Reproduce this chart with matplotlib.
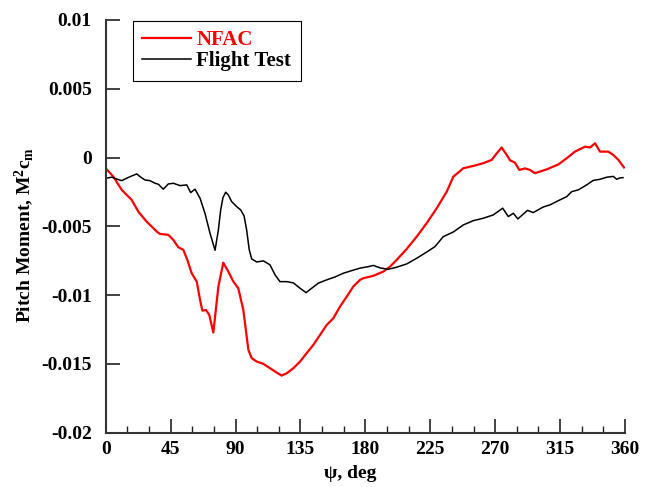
import matplotlib
matplotlib.use("Agg")
import matplotlib.pyplot as plt
from matplotlib.ticker import MultipleLocator

plt.rcParams["font.family"] = ["Liberation Serif", "DejaVu Serif"]
plt.rcParams["font.weight"] = "bold"
plt.rcParams["mathtext.fontset"] = "custom"
plt.rcParams["mathtext.rm"] = "Liberation Serif:bold"
plt.rcParams["mathtext.it"] = "Liberation Serif:bold"
plt.rcParams["mathtext.bf"] = "Liberation Serif:bold"

# Azimuth (deg) and pitch-moment coefficient, NFAC wind tunnel
nfac_psi = [0.0, 5.3, 11.1, 18.0, 22.6, 28.4, 35.4, 37.6, 43.4, 46.9, 50.3, 53.8,
            56.6, 59.6, 63.1, 65.4, 67.0, 69.5, 71.8, 74.6, 78.1, 81.5, 85.0, 88.5,
            91.9, 95.4, 98.9, 101.2, 104.7, 109.3, 113.9, 118.5, 122.0, 125.5, 130.1,
            134.7, 139.3, 143.9, 148.6, 153.2, 157.8, 162.4, 167.1, 171.6, 176.3,
            178.6, 185.5, 192.4, 197.1, 201.7, 208.7, 215.6, 222.5, 229.5, 236.4,
            241.0, 247.9, 254.8, 261.8, 267.6, 271.1, 274.5, 278.0, 280.3, 283.7,
            286.7, 290.7, 294.1, 297.6, 305.7, 313.8, 319.6, 325.3, 332.3, 335.8,
            339.2, 342.7, 348.4, 351.9, 355.4, 359.3]
nfac_cm = [-0.00078, -0.00139, -0.00235, -0.00308, -0.00393, -0.00466, -0.00538,
           -0.00555, -0.00562, -0.00599, -0.00652, -0.00671, -0.00744, -0.00841,
           -0.00902, -0.01035, -0.01113, -0.01108, -0.01144, -0.01272, -0.00938,
           -0.00764, -0.00829, -0.00902, -0.00950, -0.01108, -0.01398, -0.01458,
           -0.01483, -0.01500, -0.01531, -0.01563, -0.01585, -0.01568, -0.01531,
           -0.01483, -0.01422, -0.01362, -0.01289, -0.01217, -0.01168, -0.01084,
           -0.01011, -0.00938, -0.00889, -0.00877, -0.00860, -0.00829, -0.00793,
           -0.00744, -0.00664, -0.00575, -0.00477, -0.00368, -0.00248, -0.00139,
           -0.00078, -0.00061, -0.00041, -0.00017, 0.00031, 0.00073, 0.00019,
           -0.00020, -0.00037, -0.00090, -0.00079, -0.00090, -0.00114, -0.00086,
           -0.00050, -0.00005, 0.00043, 0.00079, 0.00073, 0.00104, 0.00043,
           0.00043, 0.00019, -0.00017, -0.00072]

# Flight test measurements
flight_psi = [0.2, 4.2, 7.6, 11.1, 14.6, 18.0, 21.5, 23.8, 27.2, 30.7, 34.2, 36.5,
              39.9, 43.4, 46.9, 51.5, 56.2, 58.9, 61.9, 65.4, 68.8, 72.3, 75.8,
              78.1, 79.7, 81.3, 83.2, 85.0, 87.3, 90.8, 93.6, 95.9, 97.7, 99.5,
              101.2, 104.7, 109.3, 113.9, 117.4, 120.8, 125.5, 130.1, 134.7, 138.9,
              142.8, 147.4, 153.2, 159.0, 164.7, 170.5, 176.3, 182.0, 185.5, 190.2,
              195.9, 201.7, 208.7, 215.6, 222.5, 228.3, 234.0, 241.0, 247.9, 254.8,
              261.8, 268.7, 275.2, 279.1, 282.6, 285.7, 292.4, 296.4, 303.4, 308.0,
              313.5, 319.6, 323.0, 327.6, 333.4, 338.0, 342.7, 347.3, 351.9, 354.2,
              356.5, 358.6]
flight_cm = [-0.00150, -0.00143, -0.00156, -0.00168, -0.00150, -0.00134, -0.00119,
             -0.00139, -0.00163, -0.00168, -0.00187, -0.00194, -0.00230, -0.00192,
             -0.00187, -0.00204, -0.00199, -0.00255, -0.00230, -0.00296, -0.00405,
             -0.00550, -0.00674, -0.00526, -0.00381, -0.00290, -0.00252, -0.00272,
             -0.00320, -0.00357, -0.00381, -0.00424, -0.00526, -0.00671, -0.00737,
             -0.00759, -0.00751, -0.00780, -0.00853, -0.00902, -0.00902, -0.00911,
             -0.00950, -0.00982, -0.00950, -0.00913, -0.00889, -0.00868, -0.00841,
             -0.00822, -0.00804, -0.00793, -0.00784, -0.00802, -0.00812, -0.00797,
             -0.00773, -0.00732, -0.00687, -0.00647, -0.00575, -0.00541, -0.00490,
             -0.00459, -0.00441, -0.00417, -0.00368, -0.00429, -0.00405, -0.00446,
             -0.00384, -0.00400, -0.00359, -0.00344, -0.00315, -0.00284, -0.00248,
             -0.00235, -0.00199, -0.00166, -0.00158, -0.00143, -0.00137, -0.00158,
             -0.00148, -0.00146]

x_ticks = [0, 45, 90, 135, 180, 225, 270, 315, 360]
y_ticks = [-0.02, -0.015, -0.01, -0.005, 0, 0.005, 0.01]
y_tick_labels = ["-0.02", "-0.015", "-0.01", "-0.005", "0", "0.005", "0.01"]

fig = plt.figure(figsize=(6.55, 4.87), dpi=100)
ax = fig.add_axes([0.1614, 0.1115, 0.7928, 0.8475])

ax.plot(nfac_psi, nfac_cm, color="#ff0000", lw=1.6, label="NFAC")
ax.plot(flight_psi, flight_cm, color="black", lw=1.1, label="Flight Test")

ax.set_xlim(0, 360)
ax.set_ylim(-0.02, 0.01)
ax.set_xticks(x_ticks)
ax.set_xticklabels([str(t) for t in x_ticks])
ax.xaxis.set_minor_locator(MultipleLocator(15))
ax.set_yticks(y_ticks)
ax.set_yticklabels(y_tick_labels)

for side in ("top", "right"):
    ax.spines[side].set_visible(False)
for side in ("left", "bottom"):
    ax.spines[side].set_linewidth(1.5)
    ax.spines[side].set_color("#333333")

ax.tick_params(axis="both", which="major", direction="in", length=10, width=1.2,
               labelsize=14, color="#222222")
ax.tick_params(axis="x", which="major", pad=6)
ax.tick_params(axis="y", which="major", pad=10)
ax.tick_params(axis="x", which="minor", direction="in", length=5, width=1.0,
               color="#222222")
for lbl in ax.get_xticklabels() + ax.get_yticklabels():
    lbl.set_fontweight("bold")

ax.set_xlabel("ψ, deg", fontsize=14, fontweight="bold")
ax.xaxis.set_label_coords(0.47, -0.078)
ax.set_ylabel("Pitch Moment, M$^{2}$c$_{m}$", fontsize=14, fontweight="bold")
ax.yaxis.set_label_coords(-0.134, 0.48)

leg = ax.legend(loc="upper left", bbox_to_anchor=(0.052, 0.998), borderaxespad=0,
                frameon=True, fancybox=False, edgecolor="black", framealpha=1,
                prop={"family": "Liberation Serif", "weight": "bold", "size": 15},
                handlelength=2.35, handletextpad=0.25, labelspacing=0.05,
                borderpad=0.45)
leg.get_frame().set_linewidth(0.8)
leg.get_texts()[0].set_color("#ff0000")

fig.savefig("out.png", dpi=100)
